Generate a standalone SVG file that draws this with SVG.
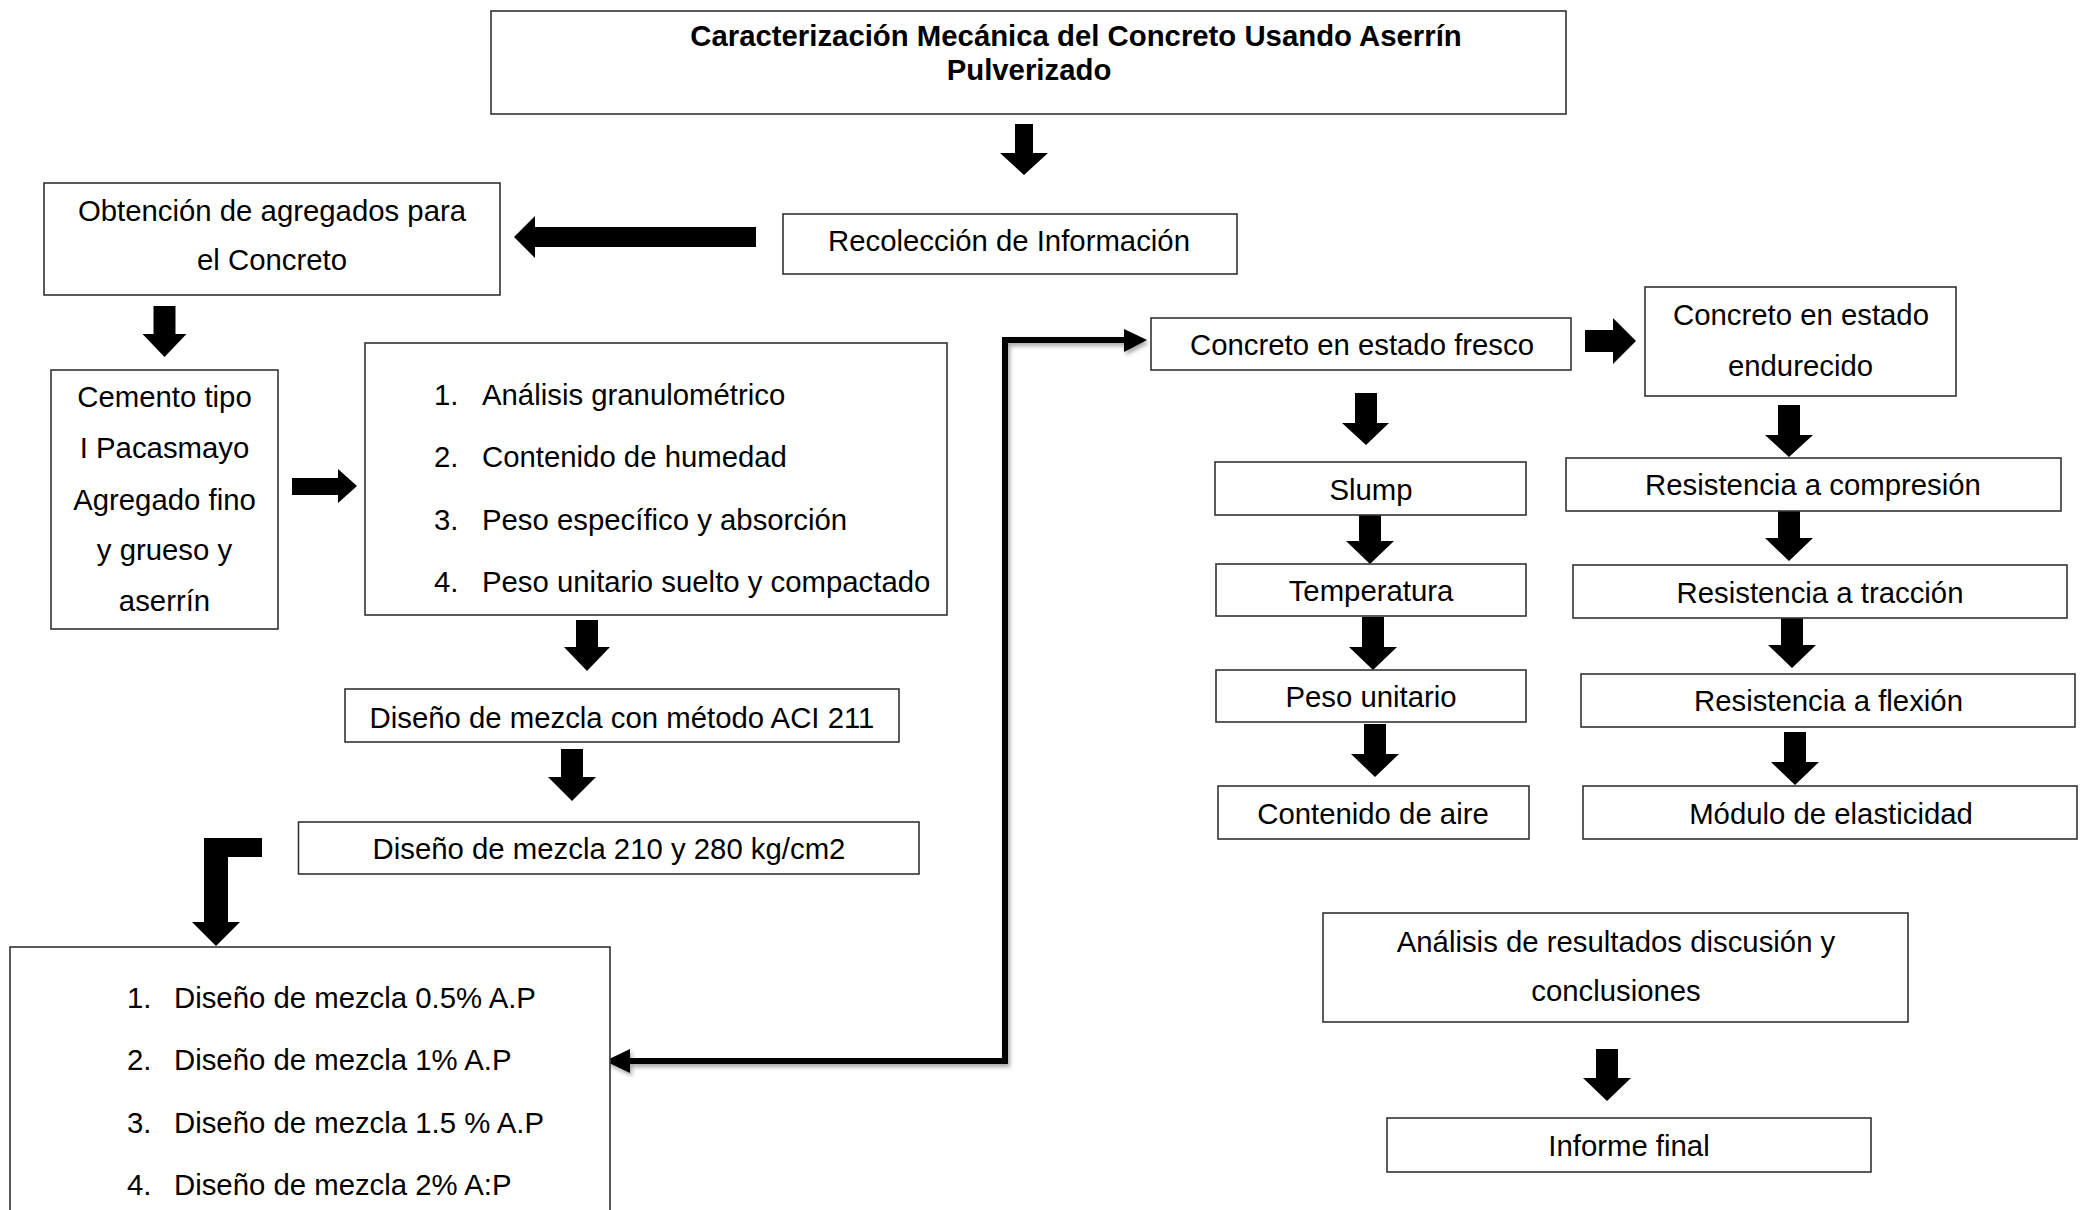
<svg xmlns="http://www.w3.org/2000/svg" width="2089" height="1210" viewBox="0 0 2089 1210">
<defs>
<style>
.box{fill:#fff;stroke:#333;stroke-width:1.6}
.t{font-family:"Liberation Sans",Arial,sans-serif;font-size:29.33px;fill:#000}
.c{text-anchor:middle}
.b{font-weight:bold}
.arr{fill:#000}
.ln{fill:none;stroke:#000;stroke-width:6;stroke-linejoin:miter}
</style>
<filter id="sh" x="-20%" y="-20%" width="140%" height="140%">
<feDropShadow dx="2" dy="3" stdDeviation="2" flood-color="#000" flood-opacity="0.35"/>
</filter>
</defs>
<rect width="2089" height="1210" fill="#fff"/>

<g id="connectors">
<polygon class="arr" points="1015,124 1033,124 1033,153 1048,153 1024,175 1000,153 1015,153"/>
<polygon class="arr" points="756,227 756,247 535,247 535,258 514,237 535,216 535,227"/>
<polygon class="arr" points="153.5,306 175.5,306 175.5,334 186.5,334 164.5,357 142.5,334 153.5,334"/>
<polygon class="arr" points="292,478 338,478 338,469 357,486 338,503 338,495 292,495"/>
<polygon class="arr" points="576,620 598,620 598,647 610,647 587,671 564,647 576,647"/>
<polygon class="arr" points="561,749 583,749 583,777 596,777 572,801 548,777 561,777"/>
<polygon class="arr" points="262,838 262,857 228,857 228,922 240,922 216,946 192,922 204,922 204,838"/>
<g filter="url(#sh)">
<path class="ln" d="M1126,340 H1005 V1061 H628"/>
<polygon class="arr" points="1124,329 1147,340 1124,352"/>
<polygon class="arr" points="630,1049 605,1061 630,1073"/>
</g>
<polygon class="arr" points="1585,330 1613,330 1613,318 1636,341 1613,364 1613,352 1585,352"/>
<polygon class="arr" points="1355,393 1377,393 1377,423 1389,423 1366,445 1342,423 1355,423"/>
<polygon class="arr" points="1359,512 1381,512 1381,541 1394,541 1370,564 1346,541 1359,541"/>
<polygon class="arr" points="1362,617 1384,617 1384,647 1397,647 1373,670 1349,647 1362,647"/>
<polygon class="arr" points="1364,724 1386,724 1386,754 1399,754 1375,777 1351,754 1364,754"/>
<polygon class="arr" points="1778,405 1800,405 1800,435 1813,435 1789,457 1765,435 1778,435"/>
<polygon class="arr" points="1778,509 1800,509 1800,538 1813,538 1789,561 1765,538 1778,538"/>
<polygon class="arr" points="1781,616 1803,616 1803,645 1816,645 1792,668 1768,645 1781,645"/>
<polygon class="arr" points="1784,732 1806,732 1806,762 1819,762 1795,785 1771,762 1784,762"/>
<polygon class="arr" points="1596,1049 1618,1049 1618,1078 1631,1078 1607,1101 1583,1078 1596,1078"/>
</g>

<g id="n-title">
<rect class="box" x="491" y="11" width="1075" height="103"/>
<text class="t b c" x="1076" y="46">Caracterización Mecánica del Concreto Usando Aserrín</text>
<text class="t b c" x="1029" y="80">Pulverizado</text>
</g>
<g id="n-recoleccion">
<rect class="box" x="783" y="214" width="454" height="60"/>
<text class="t c" x="1009" y="251">Recolección de Información</text>
</g>
<g id="n-obtencion">
<rect class="box" x="44" y="183" width="456" height="112"/>
<text class="t c" x="272" y="221">Obtención de agregados para</text>
<text class="t c" x="272" y="270">el Concreto</text>
</g>
<g id="n-cemento">
<rect class="box" x="51" y="370" width="227" height="259"/>
<text class="t c" x="164.5" y="407">Cemento tipo</text>
<text class="t c" x="164.5" y="458">I Pacasmayo</text>
<text class="t c" x="164.5" y="510">Agregado fino</text>
<text class="t c" x="164.5" y="560">y grueso y</text>
<text class="t c" x="164.5" y="611">aserrín</text>
</g>
<g id="n-ensayos">
<rect class="box" x="365" y="343" width="582" height="272"/>
<text class="t" x="434" y="405">1.</text><text class="t" x="482" y="405">Análisis granulométrico</text>
<text class="t" x="434" y="467">2.</text><text class="t" x="482" y="467">Contenido de humedad</text>
<text class="t" x="434" y="530">3.</text><text class="t" x="482" y="530">Peso específico y absorción</text>
<text class="t" x="434" y="592">4.</text><text class="t" x="482" y="592">Peso unitario suelto y compactado</text>
</g>
<g id="n-aci">
<rect class="box" x="345" y="689" width="554" height="53"/>
<text class="t c" x="622" y="728">Diseño de mezcla con método ACI 211</text>
</g>
<g id="n-210">
<rect class="box" x="298.5" y="822" width="620.5" height="52"/>
<text class="t c" x="609" y="859">Diseño de mezcla 210 y 280 kg/cm2</text>
</g>
<g id="n-disenos">
<rect class="box" x="10" y="947" width="600" height="290"/>
<text class="t" x="127" y="1008">1.</text><text class="t" x="174" y="1008">Diseño de mezcla 0.5% A.P</text>
<text class="t" x="127" y="1070">2.</text><text class="t" x="174" y="1070">Diseño de mezcla 1% A.P</text>
<text class="t" x="127" y="1133">3.</text><text class="t" x="174" y="1133">Diseño de mezcla 1.5 % A.P</text>
<text class="t" x="127" y="1195">4.</text><text class="t" x="174" y="1195">Diseño de mezcla 2% A:P</text>
</g>
<g id="n-fresco">
<rect class="box" x="1151" y="318" width="420" height="52"/>
<text class="t c" x="1362" y="355">Concreto en estado fresco</text>
</g>
<g id="n-endurecido">
<rect class="box" x="1645" y="287" width="311" height="109"/>
<text class="t c" x="1801" y="325">Concreto en estado</text>
<text class="t c" x="1800.5" y="376">endurecido</text>
</g>
<g id="n-slump">
<rect class="box" x="1215" y="462" width="311" height="53"/>
<text class="t c" x="1371" y="500">Slump</text>
</g>
<g id="n-temperatura">
<rect class="box" x="1216" y="564" width="310" height="52"/>
<text class="t c" x="1371" y="601">Temperatura</text>
</g>
<g id="n-peso">
<rect class="box" x="1216" y="670" width="310" height="52"/>
<text class="t c" x="1371" y="707">Peso unitario</text>
</g>
<g id="n-aire">
<rect class="box" x="1218" y="786" width="311" height="53"/>
<text class="t c" x="1373" y="824">Contenido de aire</text>
</g>
<g id="n-compresion">
<rect class="box" x="1566" y="458" width="495" height="53"/>
<text class="t c" x="1813" y="495">Resistencia a compresión</text>
</g>
<g id="n-traccion">
<rect class="box" x="1573" y="565" width="494" height="53"/>
<text class="t c" x="1820" y="603">Resistencia a tracción</text>
</g>
<g id="n-flexion">
<rect class="box" x="1581" y="674" width="494" height="53"/>
<text class="t c" x="1828.5" y="711">Resistencia a flexión</text>
</g>
<g id="n-modulo">
<rect class="box" x="1583" y="786" width="494" height="53"/>
<text class="t c" x="1831" y="824">Módulo de elasticidad</text>
</g>
<g id="n-analisis">
<rect class="box" x="1323" y="913" width="585" height="109"/>
<text class="t c" x="1616" y="952">Análisis de resultados discusión y</text>
<text class="t c" x="1616" y="1001">conclusiones</text>
</g>
<g id="n-informe">
<rect class="box" x="1387" y="1118" width="484" height="54"/>
<text class="t c" x="1629" y="1156">Informe final</text>
</g>
</svg>
